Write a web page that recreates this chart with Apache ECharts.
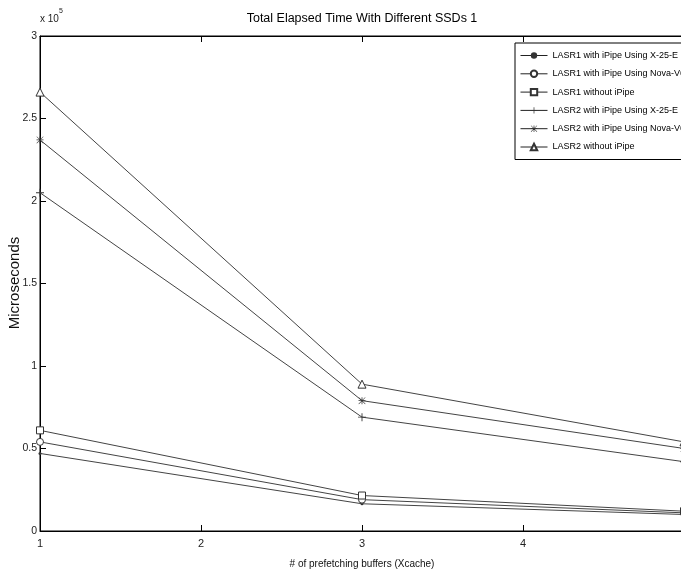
<!DOCTYPE html>
<html><head><meta charset="utf-8">
<script src="https://cdn.jsdelivr.net/npm/echarts@6/dist/echarts.min.js"></script>
<style>html,body{margin:0;padding:0;background:#fff}#c{width:681px;height:572px}</style>
</head><body><div id="c"></div>
<script>
const xValues = [1, 3, 5];
const seriesNames = [
  'LASR1 with iPipe Using X-25-E',
  'LASR1 with iPipe Using Nova-V64',
  'LASR1 without iPipe',
  'LASR2 with iPipe Using X-25-E',
  'LASR2 with iPipe Using Nova-V64',
  'LASR2 without iPipe'
];
const lasr1X25E = [47000, 16500, 10000];
const lasr1Nova = [54000, 19000, 11000];
const lasr1Without = [61000, 21500, 12000];
const lasr2X25E = [205000, 69000, 42000];
const lasr2Nova = [237000, 79000, 50000];
const lasr2Without = [266000, 89000, 54000];
const yTicks = [0, 50000, 100000, 150000, 200000, 250000, 300000];
const xTicks = [1, 2, 3, 4, 5];

const FONT = "'Liberation Sans',Arial,Helvetica,sans-serif";
const plusPath = 'path://M4,0h1v9h-1z M0,4h9v1h-9z';
const starPath = 'path://M4,0h1v9h-1z M0,4h9v1h-9z M0.5,0L9,8.5L8.5,9L0,0.5Z M8.5,0L9,0.5L0.5,9L0,8.5Z';
const markers = [
  {symbol: 'circle', size: 3, fill: '#333', border: 0},
  {symbol: 'circle', size: 7, fill: '#fff', border: 1},
  {symbol: 'rect', size: 7, fill: '#fff', border: 1},
  {symbol: plusPath, size: 8, fill: '#333', border: 0},
  {symbol: starPath, size: 7, fill: '#333', border: 0},
  {symbol: 'triangle', size: 8, fill: '#fff', border: 1}
];
const values = [lasr1X25E, lasr1Nova, lasr1Without, lasr2X25E, lasr2Nova, lasr2Without];

const chart = echarts.init(document.getElementById('c'), null, {renderer: 'canvas'});
const series = values.map((v, i) => ({
  name: seriesNames[i],
  type: 'line',
  data: xValues.map((x, j) => [x, v[j]]),
  symbol: markers[i].symbol,
  symbolSize: markers[i].size,
  showAllSymbol: true,
  lineStyle: {color: '#444', width: 1},
  itemStyle: {color: markers[i].fill, borderColor: '#333', borderWidth: markers[i].border},
  emphasis: {disabled: true},
  animation: false,
  clip: false
}));

chart.setOption({
  animation: false,
  backgroundColor: '#fff',
  title: {
    text: 'Total Elapsed Time With Different SSDs 1',
    left: 357, top: 7, textAlign: 'center',
    textStyle: {fontFamily: FONT, fontSize: 12.5, fontWeight: 'normal', color: '#000'}
  },
  grid: {left: 40, top: 36, right: -3, bottom: 41, containLabel: false, outerBoundsMode: 'none',
         show: true, borderColor: '#000', borderWidth: 1, backgroundColor: 'transparent'},
  legend: {
    orient: 'vertical', left: 515, top: 43,
    padding: [8, 12, 8, 5],
    itemWidth: 27, itemHeight: 8, itemGap: 9.3,
    backgroundColor: '#fff', borderColor: '#000', borderWidth: 1, borderRadius: 0,
    lineStyle: {width: 1, color: '#222'},
    textStyle: {fontFamily: FONT, fontSize: 9, color: '#000'},
    data: seriesNames,
    selectedMode: false
  },
  xAxis: [{
    type: 'value', min: 1, max: 5, interval: 1,
    name: '# of prefetching buffers (Xcache)', nameLocation: 'middle', nameGap: 28,
    nameTextStyle: {fontFamily: FONT, fontSize: 10, color: '#111'},
    axisLine: {lineStyle: {color: '#000', width: 1}},
    axisTick: {inside: true, length: 6, lineStyle: {color: '#000'}},
    axisLabel: {fontFamily: FONT, fontSize: 11, color: '#222', margin: 7,
      formatter: v => xTicks.includes(v) ? String(v) : ''},
    splitLine: {show: false}
  }, {
    type: 'value', min: 1, max: 5, interval: 1, position: 'top',
    axisLine: {lineStyle: {color: '#000'}},
    axisTick: {inside: true, length: 6, lineStyle: {color: '#000'}},
    axisLabel: {show: false}, splitLine: {show: false}
  }],
  yAxis: [{
    type: 'value', min: 0, max: 300000, interval: 50000,
    axisLine: {show: true, lineStyle: {color: '#000', width: 1}},
    axisTick: {show: true, inside: true, length: 6, lineStyle: {color: '#000'}},
    axisLabel: {fontFamily: FONT, fontSize: 10.5, color: '#222', margin: 3,
      formatter: v => yTicks.includes(v) ? String(v / 100000) : ''},
    splitLine: {show: false}
  }],
  graphic: [{
    type: 'text', left: 40, top: 8,
    style: {
      text: '{a|x 10}{b|5}',
      rich: {
        a: {fontFamily: FONT, fontSize: 10, fill: '#222', padding: [6, 0, 0, 0]},
        b: {fontFamily: FONT, fontSize: 7, fill: '#222', verticalAlign: 'top'}
      }
    }
  }, {
    type: 'text', x: 15, y: 283, rotation: Math.PI / 2,
    style: {
      text: 'Microseconds', align: 'center', verticalAlign: 'middle',
      fontFamily: FONT, fontSize: 15, fill: '#111'
    }
  }],
  series: series
});
</script></body></html>
